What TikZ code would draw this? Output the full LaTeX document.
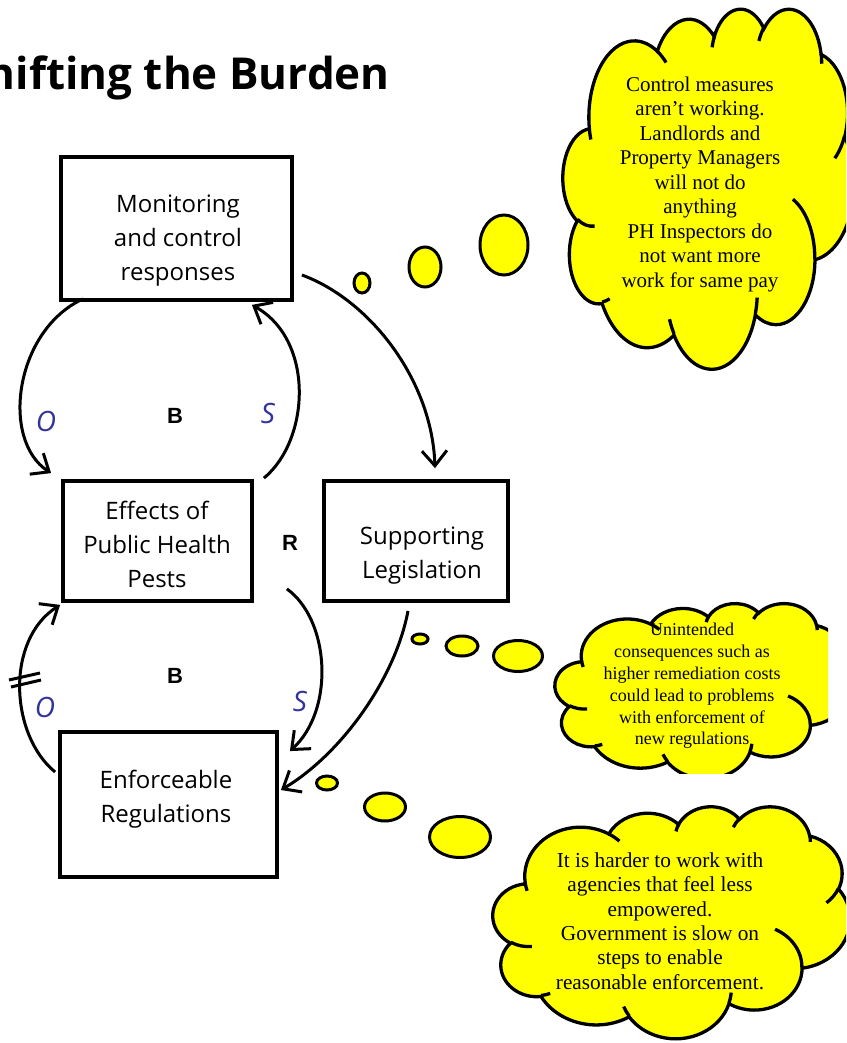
\documentclass[tikz,border=0pt]{standalone}
\usepackage{fontspec}
\setmainfont{Liberation Serif}
\newfontfamily\boxfont{Open Sans}
\newfontfamily\labfont{Liberation Sans}
\usetikzlibrary{arrows.meta,calc}
\definecolor{loopblue}{HTML}{333399}
\definecolor{cloudyellow}{HTML}{FFFF00}
% elliptical arc given OOXML-style visual start angle and sweep
\newcommand\oarc[4]{%
  \pgfextra{%
    \pgfmathparse{atan2((#1)*sin(#3),(#2)*cos(#3))}\xdef\oarcA{\pgfmathresult}%
    \pgfmathparse{atan2((#1)*sin((#3)+(#4)),(#2)*cos((#3)+(#4)))}\xdef\oarcB{\pgfmathresult}%
    \pgfmathparse{ifthenelse(\oarcB<\oarcA,\oarcB+360,\oarcB)}\xdef\oarcB{\pgfmathresult}%
  }
  arc[start angle=\oarcA, end angle=\oarcB, x radius=#1, y radius=#2]
}
\newcommand\pptcloud[4]{%
\begin{scope}[shift={(#1,#2)},xscale=#3,yscale=#4]
\filldraw[cloudbody] (39.00,143.70)
 \oarc{67.53}{91.90}{-190.4875}{123.7805}
 \oarc{53.33}{72.67}{-144.1024}{89.9452}
 \oarc{43.65}{59.45}{-145.8079}{99.7230}
 \oarc{48.57}{65.95}{-130.9861}{117.2417}
 \oarc{53.33}{72.73}{-78.7089}{109.0269}
 \oarc{67.75}{92.20}{-46.2673}{130.2690}
 \oarc{57.85}{78.67}{0.6250}{114.0333}
 \oarc{67.52}{92.15}{22.4516}{115.1726}
 \oarc{77.20}{105.43}{66.2426}{75.7110}
 \oarc{43.60}{59.18}{-274.9421}{146.7356}
 \oarc{43.45}{59.45}{-246.8285}{152.5189}
 -- cycle;
\draw[cloudedge]
 (46.93,261.77) \oarc{43.45}{59.45}{86.7420}{26.4295}
 (69.28,348.99) \oarc{43.60}{59.18}{73.6105}{11.4475}
 (164.78,390.90) \oarc{67.52}{92.15}{137.6242}{14.0811}
 (288.27,347.51) \oarc{67.52}{92.15}{6.4533}{15.9984}
 (341.29,229.54) \oarc{57.85}{78.67}{-70.2924}{70.9174}
 (417.98,153.54) \oarc{53.33}{72.73}{30.3180}{27.7515}
 (383.24,54.26) \oarc{48.57}{65.95}{-13.7443}{14.8589}
 (290.78,39.52) \oarc{48.57}{65.95}{-149.1815}{18.1954}
 (221.41,47.20) \oarc{43.65}{59.45}{-163.4943}{17.6864}
 (140.00,51.92) \oarc{67.53}{91.90}{-66.7070}{12.3194}
 (41.27,157.89) \oarc{67.53}{91.90}{157.6544}{11.8582};
\end{scope}}
\tikzset{
  box/.style={draw, line width=3.8pt, inner sep=0pt},
  boxtext/.style={font=\boxfont\fontsize{24}{34}\selectfont, align=center, inner sep=0pt},
  link/.style={line width=3pt, -{Straight Barb[length=15pt,width=25pt]}},
  cloudbody/.style={fill=cloudyellow, draw=black, line width=3.3pt},
  cloudedge/.style={draw=black, line width=3.3pt},
  bubble/.style={fill=cloudyellow, draw=black, line width=3pt},
  pol/.style={text=loopblue, font=\boxfont\itshape\fontsize{28}{32}\selectfont, inner sep=0pt},
  loopname/.style={font=\labfont\bfseries\fontsize{22}{26}\selectfont, inner sep=0pt},
  bar/.style={line width=3pt}
}
\begin{document}
\begin{tikzpicture}[x=1pt,y=-1pt]
\useasboundingbox (0,0) rectangle (846,1043);
\clip (0,0) rectangle (846,1043);
\fill[white] (0,0) rectangle (846,1043);

% title
\node[anchor=base east, font=\boxfont\bfseries\fontsize{44}{50}\selectfont, inner sep=0pt] (title) at (390,90) {Shifting the Burden};

% clouds
\pptcloud{563}{8}{0.6736}{0.8333}
\begin{scope}
\clip (0,0) rectangle (828,773);
\pptcloud{555}{603}{0.6829}{0.4051}
\end{scope}
\pptcloud{493}{806}{0.8264}{0.5370}

\node[align=center, font=\fontsize{21}{24.5}\selectfont] (c1T) at (700,184) {Control measures\\aren’t working.\\Landlords and\\Property Managers\\will not do\\anything\\PH Inspectors do\\not want more\\work for same pay};
\node[align=center, font=\fontsize{18}{21.8}\selectfont] (c2T) at (692,686) {Unintended\\consequences such as\\higher remediation costs\\could lead to problems\\with enforcement of\\new regulations};
\node[align=center, font=\fontsize{21.3}{24.3}\selectfont] (c3T) at (660,921) {It is harder to work with\\agencies that feel less\\empowered.\\Government is slow on\\steps to enable\\reasonable enforcement.};

% bubbles
\draw[bubble] (362,283) ellipse [x radius=8, y radius=10];
\draw[bubble] (425,267) ellipse [x radius=16, y radius=20];
\draw[bubble] (504,245) ellipse [x radius=24, y radius=30];
\draw[bubble] (420,639) ellipse [x radius=8, y radius=5];
\draw[bubble] (462,646) ellipse [x radius=16, y radius=10];
\draw[bubble] (518,656) ellipse [x radius=24.5, y radius=15.5];
\draw[bubble] (327,783) ellipse [x radius=10.5, y radius=7];
\draw[bubble] (385,807) ellipse [x radius=20.5, y radius=14];
\draw[bubble] (460,837) ellipse [x radius=30.5, y radius=20.5];

% boxes
\node[box, minimum width=231, minimum height=143] (mon) at (176.5,228.5) {};
\node[box, minimum width=189, minimum height=120] (eff) at (157.5,541) {};
\node[box, minimum width=184, minimum height=120] (sup) at (416,541) {};
\node[box, minimum width=217, minimum height=145] (enf) at (168.5,804.5) {};
\node[boxtext] (monT) at (178,241) {Monitoring\\and control\\responses};
\node[boxtext] (effT) at (157,544) {Effects of\\Public Health\\Pests};
\node[boxtext] (supT) at (422,556) {Supporting\\Legislation};
\node[boxtext] (enfT) at (166,799) {Enforceable\\Regulations};

% connectors
\draw[link] ($(mon.south west)+(24,-3)$) .. controls (15,330) and (0,440) .. ($(eff.north west)+(-10,-6)$);
\draw[link] ($(eff.north east)+(10,-1)$) .. controls (310,440) and (315,340) .. ($(mon.south east)+(-42,3)$);
\draw[link] ($(mon.east)+(8,46.5)$) .. controls (370,300) and (432,380) .. ($(sup.north)+(19,-11)$);
\draw[link] ($(eff.south east)+(33,-14)$) .. controls (330,620) and (335,710) .. ($(enf.north east)+(11,21)$);
\draw[link] ($(sup.south)+(-8,8)$) .. controls (395,680) and (340,755) .. ($(enf.east)+(2,-14.5)$);
\draw[link] ($(enf.west)+(-3,-32.5)$) .. controls (10,735) and (5,640) .. ($(eff.south west)+(-1,2)$);

% delay mark
\draw[bar] (9,680) -- (40,673);
\draw[bar] (11,687) -- (41,680);

% loop labels
\node[loopname] (B1) at (175,416) {B};
\node[pol] (S1) at (268,413) {S};
\node[pol] (O1) at (46,421) {O};
\node[loopname] (R) at (290,543) {R};
\node[loopname] (B2) at (175,676) {B};
\node[pol] (S2) at (300,701) {S};
\node[pol] (O2) at (45,707) {O};
\end{tikzpicture}
\end{document}
